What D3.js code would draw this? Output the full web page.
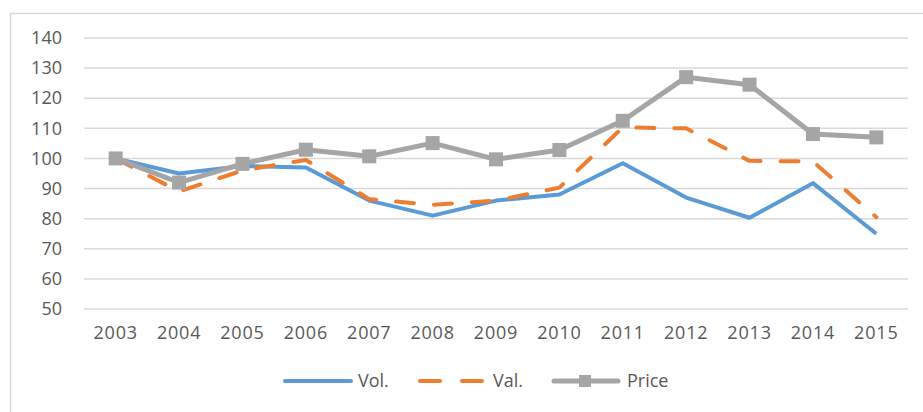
<!DOCTYPE html>
<meta charset="utf-8">
<head>
    <title>Vol / Val / Price</title>
</head>

<style>
body { margin: 0; background: #fff; }

.grid line {
  stroke: #d9d9d9;
  stroke-width: 1.5;
}

.axis text {
  font: 18px "Open Sans", sans-serif;
  fill: #595959;
}

.line {
  fill: none;
  stroke-linejoin: round;
}

.legend text {
  font: 18px "Open Sans", sans-serif;
  fill: #595959;
}
</style>
<body>
<script src="https://cdn.jsdelivr.net/npm/d3@7"></script>
<script>

var years = ["2003", "2004", "2005", "2006", "2007", "2008", "2009",
             "2010", "2011", "2012", "2013", "2014", "2015"];
var vol   = [100, 95, 97.5, 97, 86, 81, 86, 88, 98.4, 87, 80.3, 91.8, 75];
var val   = [100, 89, 96, 99.5, 86.5, 84.6, 86, 90.3, 110.3, 110, 99.2, 99, 80.5];
var price = [100, 92, 98.2, 102.9, 100.7, 105.1, 99.7, 102.8, 112.5, 127, 124.5, 108.1, 107];
var yTicks = [50, 60, 70, 80, 90, 100, 110, 120, 130, 140];

var W = 923, H = 412;

var x = d3.scaleBand()
    .domain(years)
    .range([84, 908]);

var y = d3.scaleLinear()
    .domain([50, 140])
    .range([309, 38]);

var svg = d3.select("body").append("svg")
    .attr("width", W)
    .attr("height", H);

// chart area border (cropped on the right and bottom)
svg.append("rect")
    .attr("x", 10.5)
    .attr("y", 13.5)
    .attr("width", 930)
    .attr("height", 420)
    .attr("fill", "none")
    .attr("stroke", "#d9d9d9")
    .attr("stroke-width", 1.5);

// gridlines
svg.append("g")
    .attr("class", "grid")
  .selectAll("line")
    .data(yTicks)
  .enter().append("line")
    .attr("x1", 84)
    .attr("x2", 908)
    .attr("y1", function(d) { return y(d); })
    .attr("y2", function(d) { return y(d); });

// y axis labels
var yAxis = svg.append("g")
    .attr("class", "axis axis--y")
    .attr("transform", "translate(84,0)")
    .call(d3.axisLeft(y).tickValues(yTicks).tickSize(0).tickPadding(22));
yAxis.select(".domain").remove();

// x axis labels
var xAxis = svg.append("g")
    .attr("class", "axis axis--x")
    .attr("transform", "translate(0,324)")
    .call(d3.axisBottom(x).tickSize(0).tickPadding(2));
xAxis.select(".domain").remove();
xAxis.selectAll("text").style("letter-spacing", "0.8px");

function cx(i) { return x(years[i]) + x.bandwidth() / 2; }

var line = d3.line()
    .x(function(d, i) { return cx(i); })
    .y(function(d) { return y(d); });

svg.append("path")
    .datum(vol)
    .attr("class", "line")
    .attr("stroke", "#5b9bd5")
    .attr("stroke-width", 4)
    .attr("d", line);

svg.append("path")
    .datum(val)
    .attr("class", "line")
    .attr("stroke", "#ed7d31")
    .attr("stroke-width", 4)
    .attr("stroke-linecap", "round")
    .attr("stroke-dasharray", "18,20")
    .attr("d", line);

svg.append("path")
    .datum(price)
    .attr("class", "line")
    .attr("stroke", "#a5a5a5")
    .attr("stroke-width", 5)
    .attr("d", line);

svg.append("g")
  .selectAll("rect")
    .data(price)
  .enter().append("rect")
    .attr("x", function(d, i) { return cx(i) - 7; })
    .attr("y", function(d) { return y(d) - 7; })
    .attr("width", 14)
    .attr("height", 14)
    .attr("fill", "#a5a5a5");

// legend
var legend = svg.append("g").attr("class", "legend");
var ly = 381;

legend.append("line")
    .attr("x1", 285).attr("x2", 351)
    .attr("y1", ly).attr("y2", ly)
    .attr("stroke", "#5b9bd5").attr("stroke-width", 4)
    .attr("stroke-linecap", "round");
legend.append("text")
    .attr("x", 358).attr("y", ly).attr("dy", ".35em")
    .text("Vol.");

legend.append("line")
    .attr("x1", 420).attr("x2", 482)
    .attr("y1", ly).attr("y2", ly)
    .attr("stroke", "#ed7d31").attr("stroke-width", 4)
    .attr("stroke-linecap", "round")
    .attr("stroke-dasharray", "20,22");
legend.append("text")
    .attr("x", 493).attr("y", ly).attr("dy", ".35em")
    .text("Val.");

legend.append("line")
    .attr("x1", 554).attr("x2", 618)
    .attr("y1", ly).attr("y2", ly)
    .attr("stroke", "#a5a5a5").attr("stroke-width", 5)
    .attr("stroke-linecap", "round");
legend.append("rect")
    .attr("x", 579).attr("y", ly - 6)
    .attr("width", 12).attr("height", 12)
    .attr("fill", "#a5a5a5");
legend.append("text")
    .attr("x", 627).attr("y", ly).attr("dy", ".35em")
    .text("Price");

</script>
</body>
